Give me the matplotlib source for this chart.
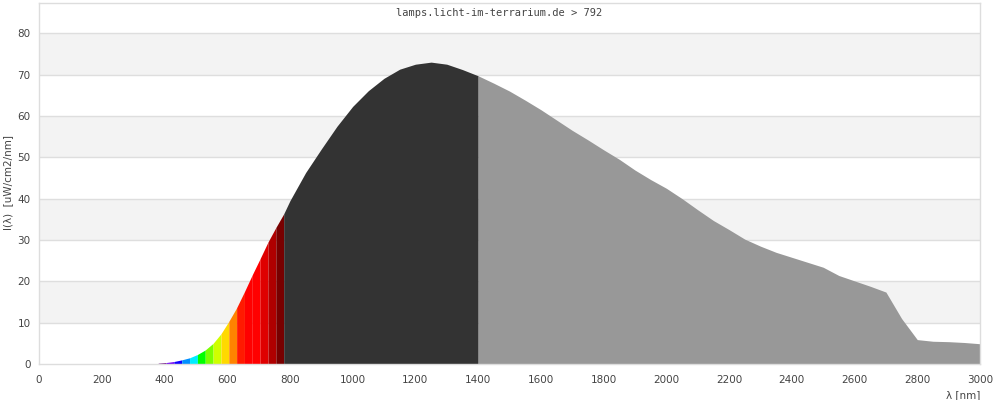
import numpy as np
import matplotlib
matplotlib.use("Agg")
import matplotlib.pyplot as plt

# ---- data ----
vis_nm = [380, 405, 430, 455, 480, 505, 530, 555, 580, 605, 630, 655, 680, 705, 730, 755, 780]
vis_val = [0.2, 0.35, 0.6, 1.0, 1.5, 2.3, 3.4, 5.0, 7.3, 10.3, 13.6, 17.5, 21.6, 25.5, 29.5, 33.0, 36.3]

nir_nm = [780, 800, 850, 900, 950, 1000, 1050, 1100, 1150, 1200, 1250, 1300, 1350, 1400]
nir_val = [36.3, 39.5, 46.3, 52.0, 57.5, 62.3, 66.1, 69.1, 71.3, 72.5, 73.0, 72.5, 71.2, 69.7]

ir_nm = [1400, 1450, 1500, 1550, 1600, 1650, 1700, 1750, 1800, 1850, 1900, 1950, 2000,
         2050, 2100, 2150, 2200, 2250, 2300, 2350, 2400, 2450, 2500, 2550, 2600, 2650,
         2700, 2750, 2800, 2850, 2900, 2950, 3000]
ir_val = [69.7, 67.9, 66.0, 63.8, 61.5, 59.0, 56.5, 54.2, 51.8, 49.5, 46.9, 44.6, 42.5,
          40.0, 37.3, 34.7, 32.5, 30.2, 28.5, 27.0, 25.8, 24.6, 23.4, 21.4, 20.1, 18.8,
          17.4, 11.0, 5.9, 5.5, 5.4, 5.2, 4.9]

band_colors = ["#64007a", "#7000f6", "#1000ff", "#0090ff", "#00ecff", "#00ff00",
               "#7aff00", "#cfff00", "#ffd900", "#ff8300", "#ff1a00", "#ff0000",
               "#ff0000", "#df0000", "#af0000", "#780000"]

x_ticks = list(range(0, 3001, 200))
y_ticks = list(range(0, 81, 10))
title = "lamps.licht-im-terrarium.de > 792"
xlabel = "\u03bb [nm]"
ylabel = "I(\u03bb)  [uW/cm2/nm]"

# ---- figure ----
fig = plt.figure(figsize=(10, 4), dpi=100)
ax = fig.add_axes([0.039, 0.09, 0.941, 0.9025])
ax.set_xlim(0, 3000)
ax.set_ylim(0, 87.3)

# alternating background bands
for lo in range(10, 80, 20):
    ax.axhspan(lo, lo + 10, color="#f3f3f3", zorder=0, lw=0)
for yv in y_ticks[1:]:
    ax.axhline(yv, color="#dedede", lw=1, zorder=0.5)

# visible coloured bands
for i, c in enumerate(band_colors):
    xs = vis_nm[i:i + 2]
    ys = vis_val[i:i + 2]
    ax.fill_between(xs, 0, ys, color=c, lw=0, zorder=2)

ax.fill_between(nir_nm, 0, nir_val, color="#333333", lw=0, zorder=2)
ax.fill_between(ir_nm, 0, ir_val, color="#989898", lw=0, zorder=2)

for s in ax.spines.values():
    s.set_color("#dddddd")
    s.set_linewidth(1)

ax.set_xticks(x_ticks)
ax.set_yticks(y_ticks)
ax.tick_params(length=0, labelsize=7.5, labelcolor="#444444")
ax.tick_params(axis="x", pad=8)
ax.tick_params(axis="y", pad=6)

fig.text(0.98, 0.0125, xlabel, ha="right", va="center", fontsize=7.5, color="#444444")
fig.text(0.008, 0.5425, ylabel, ha="center", va="center", rotation=90, fontsize=7.5, color="#444444")
fig.text(0.499, 1 - 13 / 400, title, ha="center", va="center", fontsize=7.5,
         family="DejaVu Sans Mono", color="#444444")

fig.savefig("out.png", dpi=100)
